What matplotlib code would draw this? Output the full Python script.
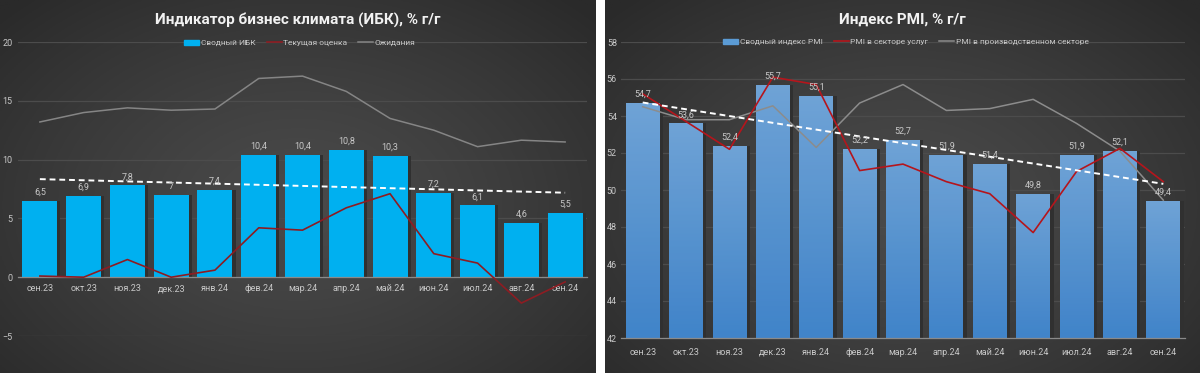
import numpy as np
import matplotlib
matplotlib.use("Agg")
import matplotlib.pyplot as plt
from matplotlib.patches import Patch
from matplotlib.lines import Line2D

plt.rcParams['font.family'] = ['Roboto', 'DejaVu Sans']

# --- data ---
months = ['сен.23', 'окт.23', 'ноя.23', 'дек.23', 'янв.24', 'фев.24', 'мар.24',
          'апр.24', 'май.24', 'июн.24', 'июл.24', 'авг.24', 'сен.24']

ibk_total = [6.5, 6.9, 7.8, 7.0, 7.4, 10.4, 10.4, 10.8, 10.3, 7.2, 6.1, 4.6, 5.5]
ibk_current = [0.1, 0.0, 1.5, 0.0, 0.6, 4.2, 4.0, 5.9, 7.1, 2.0, 1.2, -2.2, -0.4]
ibk_expect = [13.2, 14.0, 14.4, 14.2, 14.3, 16.9, 17.1, 15.8, 13.5, 12.5, 11.1, 11.65, 11.5]

pmi_total = [54.7, 53.6, 52.4, 55.7, 55.1, 52.2, 52.7, 51.9, 51.4, 49.8, 51.9, 52.1, 49.4]
pmi_services = [55.2, 53.7, 52.2, 56.1, 55.7, 51.05, 51.4, 50.45, 49.8, 47.7, 51.0, 52.25, 50.45]
pmi_manuf = [54.5, 53.8, 53.8, 54.55, 52.3, 54.7, 55.7, 54.3, 54.4, 54.9, 53.6, 52.1, 49.45]

W, H = 1200, 373
fig = plt.figure(figsize=(W / 100, H / 100), dpi=100, facecolor='white')

TXT = '#c8c8c8'
GRID = '#4c4c4c'


def panel_bg(x0, x1):
    # radial dark-gray gradient like the Excel chart area
    bg = fig.add_axes([x0 / W, 0, (x1 - x0) / W, 1], zorder=-10)
    yy, xx = np.mgrid[0:1:200j, 0:1:300j]
    r = np.sqrt(((xx - 0.5) / 0.55) ** 2 + ((yy - 0.55) / 0.6) ** 2)
    r = np.clip(r / 1.25, 0, 1)
    c0 = np.array([0x4a, 0x4a, 0x4a]) / 255
    c1 = np.array([0x2a, 0x2a, 0x2a]) / 255
    img = c0 + (c1 - c0) * r[..., None] ** 1.3
    bg.imshow(img, aspect='auto', extent=[0, 1, 0, 1])
    bg.axis('off')


panel_bg(0, 596)
panel_bg(605, 1200)


def fmt(v):
    return f"{v:g}".replace('.', ',')


def style_axes(ax):
    ax.set_facecolor('none')
    for s in ['top', 'right', 'left']:
        ax.spines[s].set_visible(False)
    ax.spines['bottom'].set_color('#8a8a8a')
    ax.spines['bottom'].set_linewidth(0.9)
    ax.tick_params(length=0, colors=TXT, labelsize=6.5)
    ax.grid(axis='y', color=GRID, linewidth=0.9)
    ax.set_axisbelow(True)


x = np.arange(len(months))

# ---------------- left: business climate ----------------
ax1 = fig.add_axes([18 / W, 1 - 336 / H, 569 / W, 294 / H])
style_axes(ax1)
ax1.bar(x + 0.04, ibk_total, width=0.86, color='#303030', zorder=1.5)
bars1 = ax1.bar(x, ibk_total, width=0.8, color='#00b0f0', zorder=2)
ax1.plot(x, ibk_expect, color='#858585', lw=1.1, zorder=3)
ax1.plot(x, ibk_current, color='#8e1c22', lw=1.2, zorder=3)
k, b = np.polyfit(x, ibk_total, 1)
ax1.plot(x, k * x + b, color='white', lw=1.4, ls=(0, (3, 2)), zorder=4)
ax1.bar_label(bars1, labels=[fmt(v) for v in ibk_total], padding=3,
              color=TXT, fontsize=6.5, zorder=5)
ax1.set_ylim(-5, 20)
ax1.set_yticks([-5, 0, 5, 10, 15, 20])
ax1.set_xlim(-0.5, 12.5)
ax1.set_xticks(x)
ax1.set_xticklabels(months)
ax1.spines['bottom'].set_position(('data', 0))
ax1.tick_params(axis='x', pad=5)
ax1.tick_params(axis='y', pad=4)

fig.text(298 / W, 1 - 20 / H, 'Индикатор бизнес климата (ИБК), % г/г',
         ha='center', va='center', color='#f2f2f2', fontsize=11, fontweight='bold')
fig.legend(handles=[Patch(color='#00b0f0', label='Сводный ИБК'),
                    Line2D([], [], color='#8e1c22', lw=1.2, label='Текущая оценка'),
                    Line2D([], [], color='#858585', lw=1.1, label='Ожидания')],
           loc='center', bbox_to_anchor=(300 / W, 1 - 43 / H), ncol=3, frameon=False,
           fontsize=6, labelcolor=TXT, handlelength=1.8, handleheight=0.6,
           handletextpad=0.2, columnspacing=1.3)

# ---------------- right: PMI ----------------
ax2 = fig.add_axes([621 / W, 1 - 338 / H, 564 / W, 296 / H])
style_axes(ax2)
ymin, ymax = 42, 58
ax2.bar(x + 0.04, pmi_total, width=0.86, color='#303030', zorder=1.5)
bars2 = ax2.bar(x, pmi_total, width=0.78, color='none', zorder=2)
grad = np.linspace(0, 1, 100)[:, None]
top_c = np.array([0x73, 0xaa, 0xe0]) / 255
bot_c = np.array([0x42, 0x89, 0xd2]) / 255
for bar, v in zip(bars2, pmi_total):
    img = top_c + (bot_c - top_c) * grad[..., None]
    img = np.repeat(img, 2, axis=1)
    bx = bar.get_x()
    im = ax2.imshow(img, extent=[bx, bx + bar.get_width(), ymin, v],
                    aspect='auto', zorder=2, alpha=0.95)
    im.set_clip_path(bar)
ax2.plot(x, pmi_manuf, color='#8c8c8c', lw=1.1, zorder=3)
ax2.plot(x, pmi_services, color='#b5151c', lw=1.2, zorder=3)
k2, b2 = np.polyfit(x, pmi_total, 1)
ax2.plot(x, k2 * x + b2, color='white', lw=1.4, ls=(0, (3, 2)), zorder=4)
ax2.bar_label(bars2, labels=[f"{v:.1f}".replace('.', ',') for v in pmi_total],
              padding=3, color=TXT, fontsize=6.5, zorder=5)
ax2.set_ylim(ymin, ymax)
ax2.set_yticks(range(42, 59, 2))
ax2.set_xlim(-0.5, 12.5)
ax2.set_xticks(x)
ax2.set_xticklabels(months)
ax2.tick_params(axis='x', pad=7)
ax2.tick_params(axis='y', pad=3)

fig.text(902 / W, 1 - 20 / H, 'Индекс PMI, % г/г',
         ha='center', va='center', color='#f2f2f2', fontsize=11, fontweight='bold')
fig.legend(handles=[Patch(color='#5b9bd5', label='Сводный индекс PMI'),
                    Line2D([], [], color='#b5151c', lw=1.2, label='PMI в секторе услуг'),
                    Line2D([], [], color='#8c8c8c', lw=1.1, label='PMI в производственном секторе')],
           loc='center', bbox_to_anchor=(906 / W, 1 - 42 / H), ncol=3, frameon=False,
           fontsize=6, labelcolor=TXT, handlelength=1.8, handleheight=0.6,
           handletextpad=0.2, columnspacing=1.3)

fig.savefig('out.png', dpi=100, facecolor='white')
